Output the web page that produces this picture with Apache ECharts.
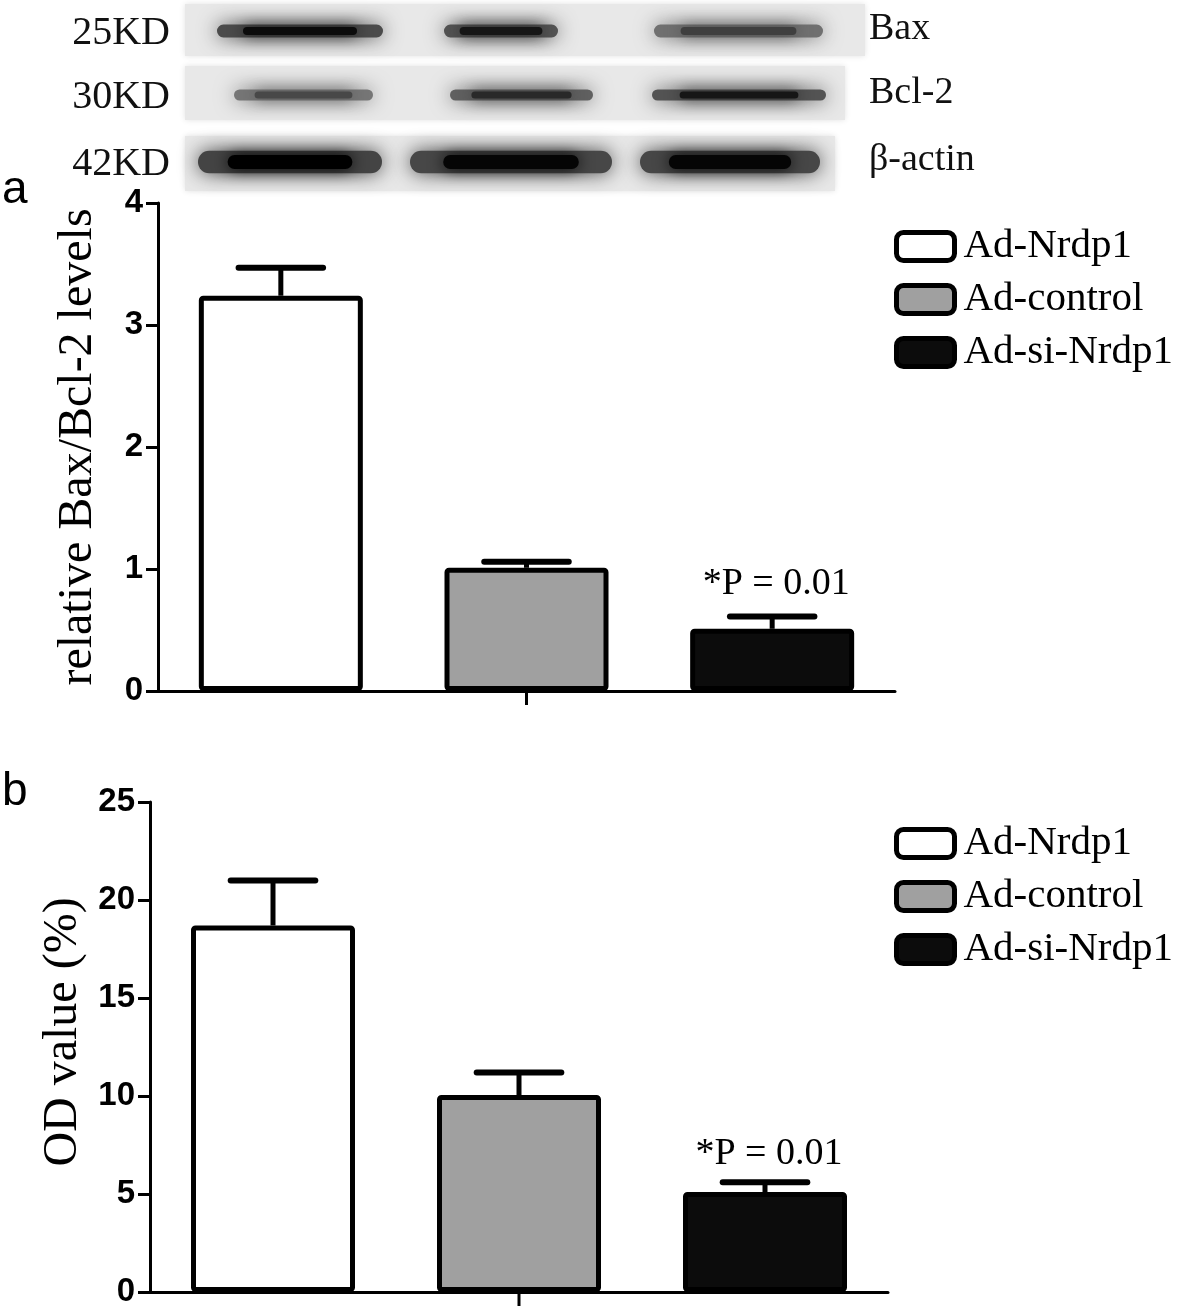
<!DOCTYPE html>
<html>
<head>
<meta charset="utf-8">
<script src="https://cdn.jsdelivr.net/npm/echarts@6/dist/echarts.min.js"></script>
<style>
html,body{margin:0;padding:0;background:#fff;}
#chart{width:1181px;height:1314px;}
</style>
</head>
<body>
<div id="chart"></div>
<script>
// ---- data ----
const groups = ['Ad-Nrdp1', 'Ad-control', 'Ad-si-Nrdp1'];
const ratioMean = [3.24, 1.01, 0.51];
const ratioUpper = [3.47, 1.06, 0.61];
const odMean = [18.7, 10.05, 5.1];
const odUpper = [21.0, 11.2, 5.6];
const annotations = ['', '', '*P = 0.01'];
const ratioTicks = [0, 1, 2, 3, 4];
const odTicks = [0, 5, 10, 15, 20, 25];
const blotRows = ['Bax', 'Bcl-2', 'β-actin'];
const blotSizes = ['25KD', '30KD', '42KD'];
// band darkness per row, per lane (0..1)
const bandBax = [0.95, 0.9, 0.72];
const bandBcl2 = [0.68, 0.82, 0.9];
const bandActin = [1.0, 0.98, 0.98];

const fills = ['#ffffff', '#a0a0a0', '#0c0c0c'];
const SERIF = '"Liberation Serif","Times New Roman",serif';
const SANS = '"Liberation Sans",Arial,sans-serif';

const chart = echarts.init(document.getElementById('chart'));

function barSeries(gi, means) {
  return groups.map((g, i) => ({
    name: g,
    type: 'bar',
    xAxisIndex: gi, yAxisIndex: gi,
    barWidth: 164,
    barGap: '-100%',
    data: means.map((v, j) => j === i ? v : '-'),
    itemStyle: { color: fills[i], borderColor: '#000', borderWidth: 5, borderRadius: 2 },
    emphasis: { disabled: true },
    animation: false
  }));
}

function errSeries(gi, means, uppers, labelOffset) {
  return {
    type: 'custom', xAxisIndex: gi, yAxisIndex: gi, z: 5, animation: false,
    data: means.map((m, i) => [i, m, uppers[i]]),
    renderItem: function (params, api) {
      const idx = api.value(0);
      const p0 = api.coord([idx, api.value(1)]);
      const p1 = api.coord([idx, api.value(2)]);
      const base = api.coord([idx, 0]);
      const half = api.size([1, 0])[0] * 0.172;
      const ch = [
        { type: 'line', shape: { x1: p0[0], y1: p0[1], x2: p1[0], y2: p1[1] }, style: { stroke: '#000', lineWidth: 5 } },
        { type: 'line', shape: { x1: p1[0] - half, y1: p1[1], x2: p1[0] + half, y2: p1[1] }, style: { stroke: '#000', lineWidth: 6, lineCap: 'round' } }
      ];
      if (params.dataIndex === 1) {
        // the single centre tick of the grouped x axis
        ch.push({ type: 'line', shape: { x1: base[0], y1: base[1], x2: base[0], y2: base[1] + 14 }, style: { stroke: '#000', lineWidth: 3 } });
      }
      const t = annotations[params.dataIndex];
      if (t) {
        ch.push({ type: 'text', x: p1[0] + 4, y: p1[1] - labelOffset,
          style: { text: t, font: '38px ' + SERIF, fill: '#000', align: 'center', verticalAlign: 'middle' } });
      }
      return { type: 'group', children: ch };
    }
  };
}

function blotGraphics() {
  const g = [];
  const strips = [
    { x: 185, y: 4, w: 680, h: 52, cy: 31, lanes: [[205, 395], [432, 570], [642, 835]], dark: bandBax, th: 16 },
    { x: 185, y: 66, w: 660, h: 54, cy: 95, lanes: [[222, 385], [438, 605], [640, 838]], dark: bandBcl2, th: 14 },
    { x: 185, y: 136, w: 650, h: 55, cy: 162, lanes: [[186, 394], [398, 624], [628, 832]], dark: bandActin, th: 28 }
  ];
  strips.forEach((s, r) => {
    g.push({ type: 'rect', shape: { x: s.x, y: s.y, width: s.w, height: s.h },
      style: { fill: '#e8e8e8', shadowBlur: 6, shadowColor: '#e2e2e2' }, z: 0 });
    s.lanes.forEach((l, k) => {
      const d = s.dark[k];
      const c1 = Math.round(225 * (1 - d * 0.7));
      const c2 = Math.round(225 * (1 - d));
      const col1 = 'rgb(' + c1 + ',' + c1 + ',' + c1 + ')';
      const col2 = 'rgb(' + c2 + ',' + c2 + ',' + c2 + ')';
      const w = l[1] - l[0];
      g.push({ type: 'rect', shape: { x: l[0] + 12, y: s.cy - s.th * 0.4, width: w - 24, height: s.th * 0.8, r: s.th * 0.4 },
        style: { fill: col1, shadowBlur: 20, shadowColor: col1 }, z: 1 });
      g.push({ type: 'rect', shape: { x: l[0] + w * 0.2, y: s.cy - s.th * 0.25, width: w * 0.6, height: s.th * 0.5, r: s.th * 0.25 },
        style: { fill: col2, shadowBlur: 16, shadowColor: col2 }, z: 1 });
    });
    g.push({ type: 'text', x: 170, y: s.cy + 2, style: { text: blotSizes[r], font: '40px ' + SERIF, fill: '#111', align: 'right', verticalAlign: 'middle' }, z: 2 });
    g.push({ type: 'text', x: 869, y: s.cy - 2, style: { text: blotRows[r], font: '38px ' + SERIF, fill: '#111', align: 'left', verticalAlign: 'middle' }, z: 2 });
  });
  g.push({ type: 'text', x: 2, y: 190, style: { text: 'a', font: '46px ' + SANS, fill: '#000', verticalAlign: 'middle' } });
  g.push({ type: 'text', x: 2, y: 792, style: { text: 'b', font: '46px ' + SANS, fill: '#000', verticalAlign: 'middle' } });
  return g;
}

function xAxis(gi) {
  return {
    type: 'category', gridIndex: gi, data: groups,
    axisLine: { lineStyle: { color: '#000', width: 3 } },
    axisTick: { show: false },
    axisLabel: { show: false }
  };
}
function yAxis(gi, ticks, name, gap, pad) {
  return {
    type: 'value', gridIndex: gi, min: ticks[0], max: ticks[ticks.length - 1], interval: ticks[1] - ticks[0],
    splitLine: { show: false },
    axisLine: { show: true, lineStyle: { color: '#000', width: 3 } },
    axisTick: { show: true, inside: false, length: 12, lineStyle: { color: '#000', width: 3 } },
    axisLabel: { color: '#000', fontFamily: SANS, fontWeight: 'bold', fontSize: 33, margin: 15 },
    name: name, nameLocation: 'middle', nameRotate: 90, nameGap: gap,
    nameTextStyle: { fontFamily: SERIF, fontSize: 48, color: '#000', padding: pad }
  };
}
function legend(top) {
  return {
    orient: 'vertical', left: 889, top: top, itemWidth: 58, itemHeight: 28, itemGap: 12,
    icon: 'roundRect', selectedMode: false,
    textStyle: { fontFamily: SERIF, fontSize: 41, color: '#000', padding: [0, 0, 0, 4] },
    data: groups.map((g, i) => ({ name: g, itemStyle: { color: fills[i], borderColor: '#000', borderWidth: 5 } }))
  };
}

chart.setOption({
  backgroundColor: '#fff',
  animation: false,
  graphic: blotGraphics(),
  grid: [
    { left: 158, width: 737, top: 203, height: 488 },
    { left: 150, width: 738, top: 802, height: 490 }
  ],
  xAxis: [xAxis(0), xAxis(1)],
  yAxis: [yAxis(0, ratioTicks, 'relative Bax/Bcl-2 levels', 56, 0), yAxis(1, odTicks, 'OD value (%)', 56, [0, 0, 0, 30])],
  legend: [legend(221), legend(818)],
  series: [].concat(
    barSeries(0, ratioMean), [errSeries(0, ratioMean, ratioUpper, 33)],
    barSeries(1, odMean), [errSeries(1, odMean, odUpper, 28)]
  )
});
</script>
</body>
</html>
